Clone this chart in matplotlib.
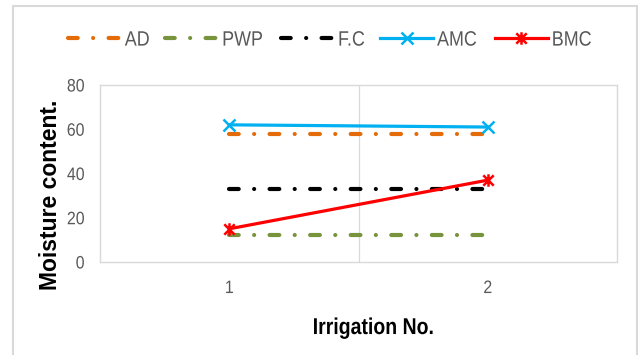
import numpy as np
import matplotlib
matplotlib.use("Agg")
import matplotlib.pyplot as plt
from matplotlib.path import Path
from matplotlib.patches import Rectangle
from matplotlib.patheffects import AbstractPathEffect
from matplotlib.transforms import Affine2D

# data
irrigation = [1, 2]
tick_labels = ["1", "2"]
ad = [58, 58]
pwp = [12, 12]
fc = [33, 33]
amc = [62, 61]
bmc = [15, 37]

plt.rcParams['lines.scale_dashes'] = False
plt.rcParams['font.family'] = ['Liberation Sans', 'DejaVu Sans']


# the original text is a narrow font, squeeze glyphs horizontally
class Squeeze(AbstractPathEffect):
    def __init__(self, sx, anchor='center'):
        super().__init__()
        self.sx = sx
        self.anchor = anchor

    def draw_path(self, renderer, gc, tpath, affine, rgbFace=None):
        ext = tpath.get_extents(affine)
        if self.anchor == 'left':
            cx = ext.x0
        elif self.anchor == 'right':
            cx = ext.x1
        else:
            cx = (ext.x0 + ext.x1) / 2
        tr = affine + Affine2D().translate(-cx, 0).scale(self.sx, 1).translate(cx, 0)
        renderer.draw_path(gc, tpath, tr, rgbFace)


# excel style asterisk marker (x plus vertical bar)
star = Path([(-1, -1), (1, 1), (-1, 1), (1, -1), (0, -1.2), (0, 1.2)],
            [Path.MOVETO, Path.LINETO, Path.MOVETO, Path.LINETO,
             Path.MOVETO, Path.LINETO])

fig = plt.figure(figsize=(6.43, 3.55), dpi=100)
ax = fig.add_axes([100/643, 93/355, 517/643, 177/355])

dashdot = (0, (7, 11.1, 0.01, 11.1))
ax.plot(irrigation, ad, color='#E36C09', lw=3, ls=dashdot,
        dash_capstyle='round', label='AD')
ax.plot(irrigation, pwp, color='#77933C', lw=3, ls=dashdot,
        dash_capstyle='round', label='PWP')
ax.plot(irrigation, fc, color='#000000', lw=3, ls=dashdot,
        dash_capstyle='round', label='F.C')
ax.plot(irrigation, amc, color='#00B0F0', lw=2.3, marker='x', ms=9,
        mew=1.8, label='AMC')
ax.plot(irrigation, bmc, color='#FF0000', lw=2.3, marker=star, ms=9,
        mew=1.8, label='BMC')

ax.set_xlim(0.5, 2.5)
ax.set_ylim(0, 80)
ax.set_xticks(irrigation)
ax.set_xticklabels(tick_labels)
ax.set_xticks([1.5], minor=True)
ax.set_yticks([0, 20, 40, 60, 80])
ax.grid(True, which='minor', axis='x', color='#D9D9D9', lw=0.9)
ax.tick_params(which='both', length=0)
ax.tick_params(axis='x', pad=13, labelsize=13, labelcolor='#595959')
ax.tick_params(axis='y', pad=11, labelsize=13, labelcolor='#595959')
for s in ax.spines.values():
    s.set_color('#D9D9D9')
    s.set_linewidth(1)
for lab in ax.get_xticklabels():
    lab.set_path_effects([Squeeze(0.88, 'center')])
for lab in ax.get_yticklabels():
    lab.set_path_effects([Squeeze(0.88, 'right')])

ax.set_xlabel('Irrigation No.', fontsize=16.5, fontweight='bold', va='baseline')
ax.xaxis.set_label_coords(0.528, -0.407)
ax.xaxis.label.set_path_effects([Squeeze(0.85, 'center')])
ax.set_ylabel('Moisture content.', fontsize=16.5, fontweight='bold', va='center')
ax.yaxis.set_label_coords(-0.095, 0.379)

leg = fig.legend(loc='center', bbox_to_anchor=(0.518, 0.887), ncol=5,
                 frameon=False, fontsize=15, handlelength=2.55,
                 handletextpad=0.17, columnspacing=0.55)
for t in leg.get_texts():
    t.set_color('#595959')
    t.set_path_effects([Squeeze(0.86, 'left')])

# outer chart border
fig.patches.append(Rectangle((13/643, -0.1), 624/643, 1.083, fill=False,
                             edgecolor='#D9D9D9', lw=1.5,
                             transform=fig.transFigure, figure=fig))

fig.savefig('out.png', dpi=100)
